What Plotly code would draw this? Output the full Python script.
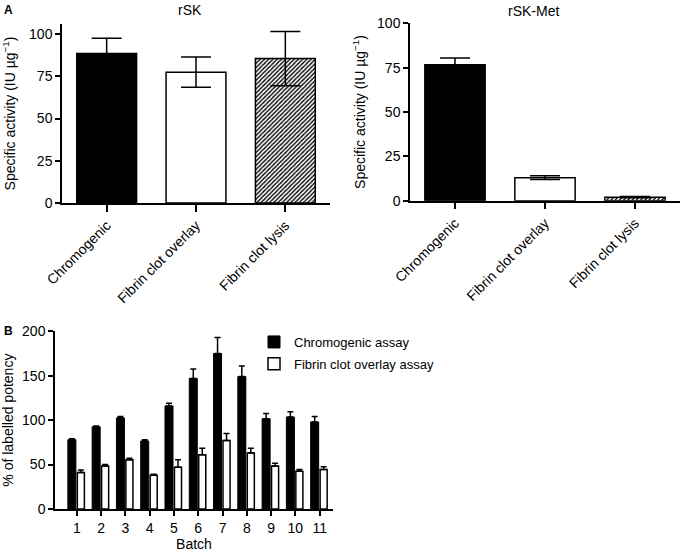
import plotly.graph_objects as go

methods = ["Chromogenic", "Fibrin clot overlay", "Fibrin clot lysis"]
rsk_vals = [88.5, 77.5, 85.5]
rsk_err = [9.0, 9.0, 16.0]
met_vals = [76.7, 13.0, 2.0]
met_err = [3.8, 1.0, 0.3]

batches = [1, 2, 3, 4, 5, 6, 7, 8, 9, 10, 11]
chromo = [78, 92.5, 102.5, 76.5, 116, 147, 175, 149, 101.5, 103.5, 98]
chromo_err = [1, 1, 1.5, 1.5, 3, 10.5, 18, 12, 6, 6, 6]
overlay = [41, 48.5, 55.5, 38, 47, 61, 77, 63, 48.5, 42.5, 44.5]
overlay_err = [3, 1.5, 1.5, 1, 8.5, 7.5, 8, 5.5, 3, 2, 3]

FONT = "Liberation Sans, Arial, sans-serif"
W, H = 681, 554

fig = go.Figure()

fills = ["black", "white", "#bdbdbd"]
pats = ["", "", "/"]

for i, m in enumerate(methods):
    pat = dict(shape=pats[i], fgcolor="black", bgcolor="white", size=3, solidity=0.45)
    fig.add_trace(go.Bar(
        x=[i], y=[rsk_vals[i]], width=0.67, xaxis="x", yaxis="y",
        marker=dict(color=fills[i], line=dict(color="black", width=1.5), pattern=pat),
        error_y=dict(type="data", array=[rsk_err[i]], color="black", thickness=1.5, width=15),
        showlegend=False))
    fig.add_trace(go.Bar(
        x=[i], y=[met_vals[i]], width=0.67, xaxis="x2", yaxis="y2",
        marker=dict(color=fills[i], line=dict(color="black", width=1.5), pattern=pat),
        error_y=dict(type="data", array=[met_err[i]], color="black", thickness=1.5, width=15),
        showlegend=False))

fig.add_trace(go.Bar(
    x=batches, y=chromo, name="Chromogenic assay", xaxis="x3", yaxis="y3",
    width=0.33, offset=-0.37, legendgroup="c",
    marker=dict(color="black", line=dict(color="black", width=1)),
    error_y=dict(type="data", array=chromo_err, arrayminus=[0]*11, symmetric=False,
                 color="black", thickness=1.5, width=3)))
fig.add_trace(go.Bar(
    x=batches, y=overlay, name="Fibrin clot overlay assay", xaxis="x3", yaxis="y3",
    width=0.29, offset=0.02, legendgroup="o",
    marker=dict(color="white", line=dict(color="black", width=1.5)),
    error_y=dict(type="data", array=overlay_err, arrayminus=[0]*11, symmetric=False,
                 color="black", thickness=1.5, width=3)))

axis_common = dict(showline=True, linecolor="black", linewidth=1.5, ticks="outside",
                   tickcolor="black", tickwidth=1.5, showgrid=False, zeroline=False,
                   automargin=False,
                   tickfont=dict(family=FONT, size=14, color="black"))
TFONT = dict(family=FONT, size=14, color="black")

fig.update_layout(
    template="none",
    width=W, height=H, margin=dict(l=0, r=0, t=0, b=0),
    plot_bgcolor="white", paper_bgcolor="white",
    barmode="overlay",
    font=dict(family=FONT, color="black"),
    xaxis=dict(domain=[62/W, 330/W], range=[-0.5, 2.5], tickvals=[0, 1, 2], ticktext=methods,
               tickangle=-45, ticklen=7, anchor="y", **axis_common),
    yaxis=dict(domain=[1-203/H, 1-24/H], range=[0, 106], tickvals=[0, 25, 50, 75, 100], ticklen=5,
               anchor="x",
               title=dict(text="Specific activity (IU µg<sup>−1</sup>)", font=TFONT, standoff=10),
               **axis_common),
    xaxis2=dict(domain=[410/W, 680/W], range=[-0.5, 2.5], tickvals=[0, 1, 2], ticktext=methods,
                tickangle=-45, ticklen=7, anchor="y2", **axis_common),
    yaxis2=dict(domain=[1-200.7/H, 1-23.3/H], range=[0, 100], tickvals=[0, 25, 50, 75, 100], ticklen=5,
                anchor="x2",
                title=dict(text="Specific activity (IU µg<sup>−1</sup>)", font=TFONT, standoff=8),
                **axis_common),
    xaxis3=dict(domain=[55/W, 333/W], range=[0.1, 11.55], tickvals=batches, ticklen=5, anchor="y3",
                title=dict(text="Batch", font=TFONT, standoff=4),
                **axis_common),
    yaxis3=dict(domain=[1-509/H, 1-331.3/H], range=[0, 200], tickvals=[0, 50, 100, 150, 200], ticklen=5,
                anchor="x3",
                title=dict(text="% of labelled potency", font=TFONT, standoff=8),
                **axis_common),
    legend=dict(x=254/W, y=1-327/H, xanchor="left", yanchor="top", bgcolor="rgba(0,0,0,0)",
                font=dict(family=FONT, size=13, color="black"), itemwidth=30, tracegroupgap=2),
    annotations=[
        dict(text="<b>A</b>", x=8/W, y=1-10/H, xref="paper", yref="paper", showarrow=False,
             xanchor="center", yanchor="middle", font=dict(family=FONT, size=12)),
        dict(text="<b>B</b>", x=8/W, y=1-331/H, xref="paper", yref="paper", showarrow=False,
             xanchor="center", yanchor="middle", font=dict(family=FONT, size=12)),
        dict(text="rSK", x=190/W, y=1-10/H, xref="paper", yref="paper", showarrow=False,
             xanchor="center", yanchor="middle", font=dict(family=FONT, size=14)),
        dict(text="rSK-Met", x=533/W, y=1-11/H, xref="paper", yref="paper", showarrow=False,
             xanchor="center", yanchor="middle", font=dict(family=FONT, size=14)),
    ],
)

fig.write_html("out.html", config={"displayModeBar": False},
               post_script="document.body.style.margin='0';document.body.style.overflow='hidden';")
